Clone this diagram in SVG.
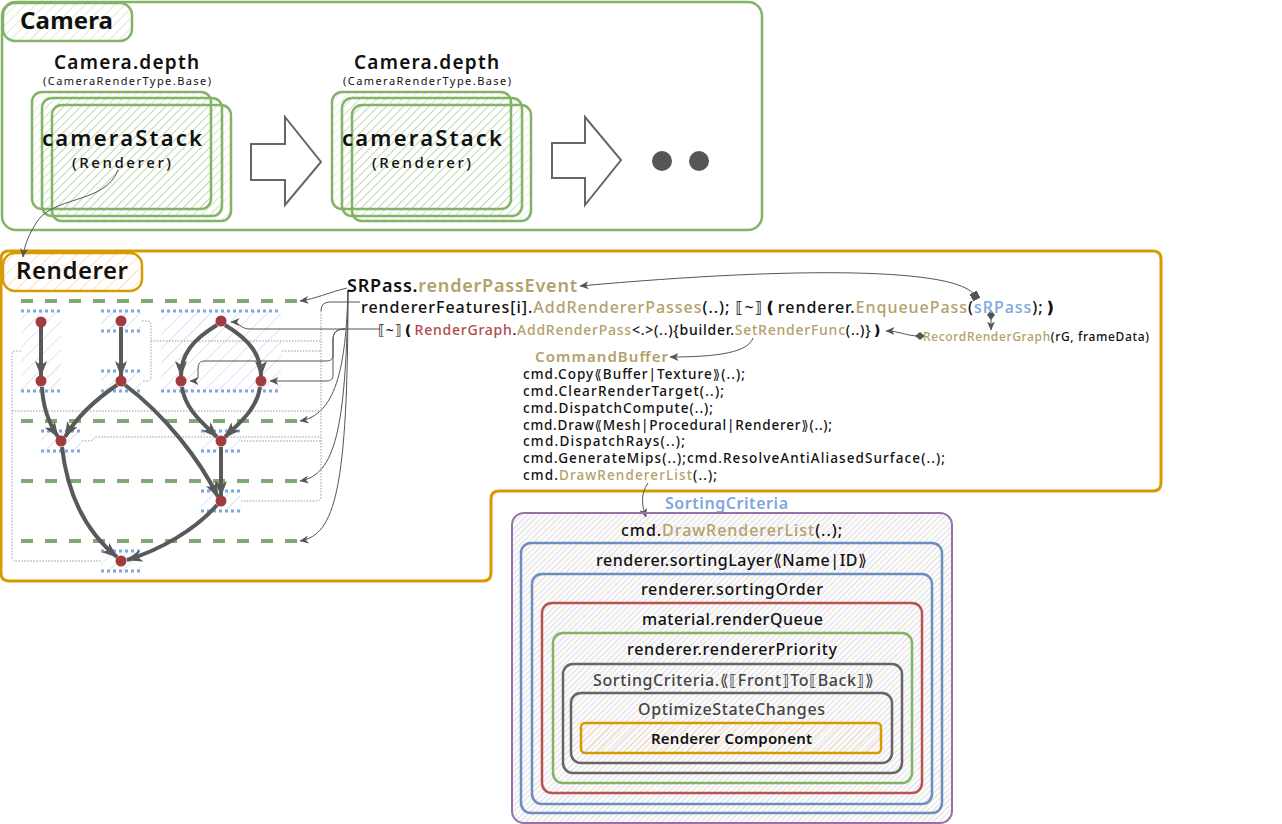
<svg xmlns="http://www.w3.org/2000/svg" width="1282" height="824" viewBox="0 0 1282 824">
<style>
text{font-family:"Noto Sans","DejaVu Sans",sans-serif;fill:#111;}
.t{fill:#b3a06b;}
.r{fill:#b04a4a;}
.b{fill:#7ea6e0;}
.g{fill:#444;}
.edge{fill:none;stroke:#595959;stroke-width:4;marker-end:url(#ah);}
.thin{fill:none;stroke:#555;stroke-width:1;}
.dot{fill:none;stroke:#999;stroke-width:1;stroke-dasharray:1.5 1.5;}
.gl{fill:none;stroke:#82a876;stroke-width:4;stroke-dasharray:12 12;}
.bl{fill:none;stroke:#7ea6e0;stroke-width:3;stroke-dasharray:3 3;}
.nd{fill:#a23b3f;}
.stk{fill:url(#pGs);stroke:#82b366;stroke-width:2.5;}
</style>
<defs>
<pattern id="pG" width="7" height="7" patternUnits="userSpaceOnUse" patternTransform="rotate(45)"><line x1="0" y1="0" x2="0" y2="7" stroke="#82b366" stroke-width="1.2" opacity=".45"/></pattern>
<pattern id="pGs" width="6" height="6" patternUnits="userSpaceOnUse" patternTransform="rotate(45)"><line x1="0" y1="0" x2="0" y2="6" stroke="#82b366" stroke-width="1.2" opacity=".35"/></pattern>
<pattern id="pO" width="9" height="9" patternUnits="userSpaceOnUse" patternTransform="rotate(45)"><line x1="0" y1="0" x2="0" y2="9" stroke="#ffb570" stroke-width="1.5" opacity=".6"/></pattern>
<pattern id="pB" width="10" height="10" patternUnits="userSpaceOnUse" patternTransform="rotate(45)"><line x1="0" y1="0" x2="0" y2="10" stroke="#a9c4eb" stroke-width="1.5" opacity=".6"/></pattern>
<pattern id="pS" width="16" height="16" patternUnits="userSpaceOnUse" patternTransform="rotate(45)">
<line x1="1" y1="0" x2="1" y2="16" stroke="#9673a6" stroke-width="1" opacity=".35"/>
<line x1="5" y1="0" x2="5" y2="16" stroke="#6c8ebf" stroke-width="1" opacity=".35"/>
<line x1="9" y1="0" x2="9" y2="16" stroke="#b85450" stroke-width="1" opacity=".3"/>
<line x1="13" y1="0" x2="13" y2="16" stroke="#82b366" stroke-width="1" opacity=".35"/>
</pattern>
<marker id="ah" viewBox="0 0 16 12" refX="15" refY="6" markerWidth="16" markerHeight="12" markerUnits="userSpaceOnUse" orient="auto"><path d="M0,0 L16,6 L0,12 L4,6 Z" fill="#595959"/></marker>
<marker id="sa" viewBox="0 0 9 8" refX="8.5" refY="4" markerWidth="9" markerHeight="8" markerUnits="userSpaceOnUse" orient="auto"><path d="M0,0 L9,4 L0,8 L2.5,4 Z" fill="#555"/></marker>
<marker id="sq" viewBox="0 0 8 8" refX="4" refY="4" markerWidth="8" markerHeight="8" markerUnits="userSpaceOnUse" orient="auto"><rect x="0" y="0" width="8" height="8" fill="#555"/></marker>
<marker id="dm" viewBox="0 0 10 10" refX="5" refY="5" markerWidth="10" markerHeight="10" markerUnits="userSpaceOnUse" orient="auto"><path d="M0,5 L5,1 L10,5 L5,9 Z" fill="#555"/></marker>
</defs>

<g id="camera">
<rect x="2" y="2" width="760" height="228" rx="14" fill="#fff" stroke="#82b366" stroke-width="2.5"/>
<rect x="3" y="3" width="129" height="38" rx="12" fill="url(#pG)" stroke="#82b366" stroke-width="2.5"/>
<text x="20" y="29" font-size="24" font-weight="bold" textLength="93">Camera</text>
</g>

<g id="stack1">
<text x="54" y="69" font-size="19" font-weight="600" textLength="145">Camera.depth</text>
<text x="43" y="85" font-size="11" textLength="168">(CameraRenderType.Base)</text>
<rect class="stk" x="32" y="92" width="179" height="117" rx="10"/>
<rect class="stk" x="42" y="98" width="180" height="118" rx="10"/>
<rect class="stk" x="52" y="105" width="179" height="116" rx="10"/>
<text x="42" y="146" font-size="22" font-weight="600" textLength="160">cameraStack</text>
<text x="72" y="168" font-size="15" font-weight="500" textLength="99">(Renderer)</text>
</g>

<g id="stack2">
<text x="354" y="69" font-size="19" font-weight="600" textLength="145">Camera.depth</text>
<text x="343" y="85" font-size="11" textLength="168">(CameraRenderType.Base)</text>
<rect class="stk" x="332" y="92" width="179" height="117" rx="10"/>
<rect class="stk" x="342" y="98" width="180" height="118" rx="10"/>
<rect class="stk" x="352" y="105" width="179" height="116" rx="10"/>
<text x="342" y="146" font-size="22" font-weight="600" textLength="160">cameraStack</text>
<text x="372" y="168" font-size="15" font-weight="500" textLength="99">(Renderer)</text>
</g>

<g id="arrows-block">
<path d="M251,144 H285 V117 L321,162 L285,205 V180 H251 Z" fill="#fff" stroke="#666" stroke-width="2"/>
<path d="M552,143 H585 V117 L621,160 L585,205 V178 H552 Z" fill="#fff" stroke="#666" stroke-width="2"/>
<circle cx="662" cy="161" r="10" fill="#555"/>
<circle cx="699" cy="161" r="10" fill="#555"/>
</g>

<g id="renderer">
<path d="M9,251 H1153 Q1161,251 1161,259 V483 Q1161,491 1153,491 H499 Q491,491 491,499 V573 Q491,581 483,581 H9 Q1,581 1,573 V259 Q1,251 9,251 Z" fill="#fff" stroke="#d79b00" stroke-width="3"/>
<rect x="3" y="253" width="139" height="38" rx="12" fill="url(#pO)" stroke="#d79b00" stroke-width="2.5"/>
<text x="16" y="279" font-size="24" font-weight="600" textLength="112">Renderer</text>
</g>

<g id="graph-regions">
<rect x="21" y="311" width="40" height="80" fill="url(#pB)"/>
<rect x="101" y="311" width="40" height="20" fill="url(#pB)"/>
<rect x="101" y="371" width="40" height="20" fill="url(#pB)"/>
<rect x="161" y="311" width="120" height="80" fill="url(#pB)"/>
<rect x="41" y="431" width="40" height="20" fill="url(#pB)"/>
<rect x="201" y="431" width="40" height="20" fill="url(#pB)"/>
<rect x="201" y="491" width="40" height="20" fill="url(#pB)"/>
<rect x="101" y="551" width="40" height="20" fill="url(#pB)"/>
<path class="bl" d="M21,311H61M21,391H61M101,311H141M101,331H141M101,371H141M101,391H141M161,311H281M161,391H281M41,431H81M41,451H81M201,431H241M201,451H241M201,491H241M201,511H241M101,551H141M101,571H141"/>
<path class="gl" d="M21,301H298M21,421H298M21,481H298M21,541H298"/>
</g>

<g id="connectors">
<path class="thin" d="M118,170 C105,205 50,195 35,225 C27,238 24,248 23,257" marker-end="url(#sa)"/>
<path class="thin" d="M347,288 C330,292 315,299 300,301" marker-end="url(#sa)"/>
<path class="thin" d="M348,290 C346,370 335,415 300,421" marker-end="url(#sa)"/>
<path class="thin" d="M348,290 C346,430 335,475 300,481" marker-end="url(#sa)"/>
<path class="thin" d="M348,290 C348,490 335,535 300,541" marker-end="url(#sa)"/>
<path class="thin" d="M360,302 H330 Q321,302 321,311"/>
<path class="dot" d="M321,311 V497 Q321,501 316,501 H241"/>
<path class="dot" d="M142,321 H147 Q151,321 151,325 V377 Q151,381 147,381 H142"/>
<path class="dot" d="M151,341 H321"/>
<path class="dot" d="M282,351 H321"/>
<path class="dot" d="M21,351 H16 Q12,351 12,355 V557 Q12,561 16,561 H101"/>
<path class="dot" d="M12,411 H321"/>
<path class="dot" d="M82,441 H89 Q93,441 95,437 H321"/>
<path class="dot" d="M241,441 H321"/>
<path class="thin" d="M380,329 H250 C240,329 240,322 231,322" marker-end="url(#sa)"/>
<path class="thin" d="M345,329 C336,329 333,333 333,340 V355 C333,360 330,361 325,361 H205 C200,361 198,363 198,370 V376 C198,380 196,381 190,381" marker-end="url(#sa)"/>
<path class="thin" d="M345,329 C336,329 333,333 333,340 V375 C333,380 330,381 325,381 H270" marker-end="url(#sa)"/>
<path class="thin" d="M975,296 C960,268 800,266 580,286" marker-start="url(#sq)" marker-end="url(#sa)"/>
<path class="thin" d="M991,315 V330" marker-start="url(#dm)" marker-end="url(#sa)"/>
<path class="thin" d="M920,336 C905,336 900,331 886,331" marker-start="url(#dm)" marker-end="url(#sa)"/>
<path class="thin" d="M753,338 C748,352 720,357 670,357" marker-end="url(#sa)"/>
<path class="thin" d="M648,483 C640,495 642,506 646,517" marker-end="url(#sa)"/>
<path class="edge" d="M41,327 L41,376"/>
<path class="edge" d="M121,327 L121,376"/>
<path class="edge" d="M217,325 C192,340 181,355 181,376"/>
<path class="edge" d="M225,325 C250,340 261,355 261,376"/>
<path class="edge" d="M42,387 C43,410 50,425 58,437"/>
<path class="edge" d="M117,385 C95,400 76,418 65,437"/>
<path class="edge" d="M125,385 C165,415 200,460 218,497"/>
<path class="edge" d="M182,387 C185,410 205,425 217,437"/>
<path class="edge" d="M260,387 C257,410 237,425 225,437"/>
<path class="edge" d="M221,447 L221,496"/>
<path class="edge" d="M62,447 C68,500 90,535 117,557"/>
<path class="edge" d="M217,505 C195,530 160,550 127,560"/>
</g>

<g id="nodes">
<circle class="nd" cx="41" cy="322" r="5.5"/>
<circle class="nd" cx="41" cy="381" r="5.5"/>
<circle class="nd" cx="121" cy="321" r="5.5"/>
<circle class="nd" cx="121" cy="381" r="5.5"/>
<circle class="nd" cx="221" cy="321" r="5.5"/>
<circle class="nd" cx="181" cy="381" r="5.5"/>
<circle class="nd" cx="261" cy="381" r="5.5"/>
<circle class="nd" cx="61" cy="441" r="5.5"/>
<circle class="nd" cx="221" cy="441" r="5.5"/>
<circle class="nd" cx="221" cy="501" r="5.5"/>
<circle class="nd" cx="121" cy="561" r="5.5"/>
</g>

<g id="code-text">
<text x="347" y="292" font-size="18" font-weight="600" textLength="230">SRPass.<tspan class="t">renderPassEvent</tspan></text>
<text x="361" y="313" font-size="16" font-weight="500" textLength="696">rendererFeatures[i].<tspan class="t">AddRendererPasses</tspan>(..); ⟦~⟧❪renderer.<tspan class="t">EnqueuePass</tspan>(<tspan class="b">sRPass</tspan>);❫</text>
<text x="378" y="335" font-size="14" font-weight="500" textLength="505">⟦~⟧❪<tspan class="r">RenderGraph</tspan>.<tspan class="t">AddRenderPass</tspan>&lt;.&gt;(..){builder.<tspan class="t">SetRenderFunc</tspan>(..)}❫</text>
<text x="923" y="341" font-size="12" font-weight="500" textLength="226"><tspan class="t">RecordRenderGraph</tspan>(rG, frameData)</text>
<text x="535" y="362" font-size="15" font-weight="600" class="t" textLength="133">CommandBuffer</text>
<text x="523" y="379" font-size="13.5" font-weight="500" textLength="222">cmd.Copy⟪Buffer|Texture⟫(..);</text>
<text x="523" y="396" font-size="13.5" font-weight="500" textLength="201">cmd.ClearRenderTarget(..);</text>
<text x="523" y="413" font-size="13.5" font-weight="500" textLength="190">cmd.DispatchCompute(..);</text>
<text x="523" y="430" font-size="13.5" font-weight="500" textLength="309">cmd.Draw⟪Mesh|Procedural|Renderer⟫(..);</text>
<text x="523" y="446" font-size="13.5" font-weight="500" textLength="162">cmd.DispatchRays(..);</text>
<text x="523" y="463" font-size="13.5" font-weight="500" textLength="422">cmd.GenerateMips(..);cmd.ResolveAntiAliasedSurface(..);</text>
<text x="523" y="480" font-size="13.5" font-weight="500" textLength="194">cmd.<tspan class="t">DrawRendererList</tspan>(..);</text>
</g>

<g id="sorting">
<text x="665" y="509" font-size="16" font-weight="600" class="b" textLength="123">SortingCriteria</text>
<rect x="512" y="513" width="440" height="310" rx="12" fill="url(#pS)" stroke="#9673a6" stroke-width="2"/>
<text x="621" y="536" font-size="16" font-weight="500" textLength="221">cmd.<tspan class="t">DrawRendererList</tspan>(..);</text>
<rect x="521" y="543" width="421" height="270" rx="10" fill="none" stroke="#6c8ebf" stroke-width="2.5"/>
<text x="596" y="566" font-size="16" font-weight="500" textLength="271">renderer.sortingLayer⟪Name|ID⟫</text>
<rect x="532" y="574" width="400" height="230" rx="10" fill="none" stroke="#6c8ebf" stroke-width="2.5"/>
<text x="641" y="595" font-size="16" font-weight="500" textLength="182">renderer.sortingOrder</text>
<rect x="542" y="603" width="380" height="190" rx="10" fill="none" stroke="#b85450" stroke-width="2.5"/>
<text x="642" y="625" font-size="16" font-weight="500" textLength="181">material.renderQueue</text>
<rect x="553" y="633" width="359" height="150" rx="10" fill="none" stroke="#82b366" stroke-width="2.5"/>
<text x="627" y="655" font-size="16" font-weight="500" textLength="210">renderer.rendererPriority</text>
<rect x="563" y="664" width="339" height="109" rx="10" fill="none" stroke="#666" stroke-width="2.5"/>
<text x="593" y="686" font-size="16" font-weight="500" class="g" textLength="281">SortingCriteria.⟪⟦Front⟧To⟦Back⟧⟫</text>
<rect x="571" y="693" width="321" height="70" rx="10" fill="none" stroke="#666" stroke-width="2.5"/>
<text x="638" y="715" font-size="16" font-weight="500" class="g" textLength="187">OptimizeStateChanges</text>
<rect x="581" y="723" width="300" height="30" rx="4" fill="url(#pO)" stroke="#d79b00" stroke-width="2.5"/>
<text x="651" y="744" font-size="15" font-weight="600" textLength="161">Renderer Component</text>
</g>
</svg>
